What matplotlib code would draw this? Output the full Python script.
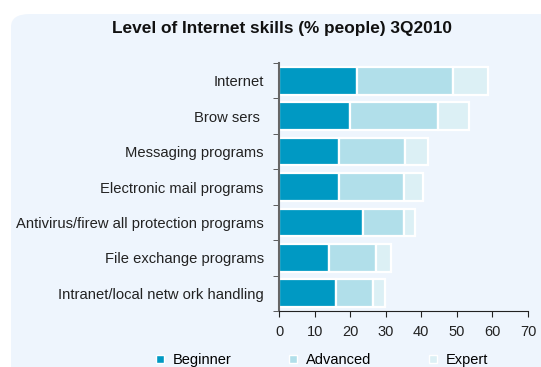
import numpy as np
import matplotlib.pyplot as plt
from matplotlib.patches import FancyBboxPatch

plt.rcParams['font.family'] = ['Liberation Sans', 'DejaVu Sans']

# survey data, share of people by skill level
categories = ['Internet', 'Brow sers ', 'Messaging programs', 'Electronic mail programs',
              'Antivirus/firew all protection programs', 'File exchange programs',
              'Intranet/local netw ork handling']
beginner = [22.0, 20.0, 16.8, 16.8, 23.5, 14.0, 16.0]
advanced = [27.0, 24.8, 18.6, 18.3, 11.5, 13.2, 10.5]
expert = [9.8, 8.6, 6.4, 5.5, 3.2, 4.4, 3.2]
series_names = ['Beginner', 'Advanced', 'Expert']
colors = ['#0099C3', '#B1DFEA', '#DCF0F5']
xticks = [0, 10, 20, 30, 40, 50, 60, 70]

fig = plt.figure(figsize=(5.41, 3.67), dpi=100)
fig.patch.set_facecolor('white')

# rounded light panel behind everything
top = 1 - 14 / 367
panel = FancyBboxPatch((11 / 541, -0.2), 1.2, top + 0.2,
                       boxstyle='round,pad=0,rounding_size=0.035',
                       transform=fig.transFigure, facecolor='#EEF5FD',
                       edgecolor='none', zorder=-10)
fig.patches.append(panel)

ax = fig.add_axes([279 / 541, (367 - 311) / 367, (528 - 279) / 541, (311 - 63) / 367])
ax.set_facecolor('none')
ax.set_zorder(5)

y = np.arange(len(categories))
left = np.zeros(len(categories))
for vals, name, col in zip([beginner, advanced, expert], series_names, colors):
    ax.barh(y, vals, left=left, height=0.78, color=col, edgecolor='white',
            linewidth=1.6, label=name)
    left += np.array(vals)

ax.set_ylim(len(categories) - 0.5, -0.5)
ax.set_xlim(0, 70)
ax.set_xticks(xticks)
ax.set_yticks(y)
ax.set_yticklabels(categories, fontsize=10.6, color='#222222')
ax.set_yticks(np.arange(len(categories) + 1) - 0.5, minor=True)
ax.tick_params(axis='y', which='major', length=0, pad=11)
ax.tick_params(axis='y', which='minor', length=4, color='#444444')
ax.tick_params(axis='x', length=4, color='#222222', labelsize=10.5, labelcolor='#222222', pad=6)

for s in ['top', 'right']:
    ax.spines[s].set_visible(False)
ax.spines['left'].set_color('#666666')
ax.spines['left'].set_linewidth(1.5)
ax.spines['bottom'].set_color('#222222')

fig.text(282 / 541, 1 - 28 / 367, 'Level of Internet skills (% people) 3Q2010',
         ha='center', va='center', fontsize=12.4, fontweight='bold', color='#111111')

handles = [plt.Rectangle((0, 0), 1, 1, facecolor=c, edgecolor='white', linewidth=1) for c in colors]
fig.legend(handles, series_names, loc='center', bbox_to_anchor=(322 / 541, 1 - 360 / 367),
           ncol=3, frameon=False, fontsize=10.5, handlelength=0.5, handleheight=0.5,
           handletextpad=0.6, columnspacing=4.0)

fig.savefig('out.png', dpi=100, facecolor='white')
